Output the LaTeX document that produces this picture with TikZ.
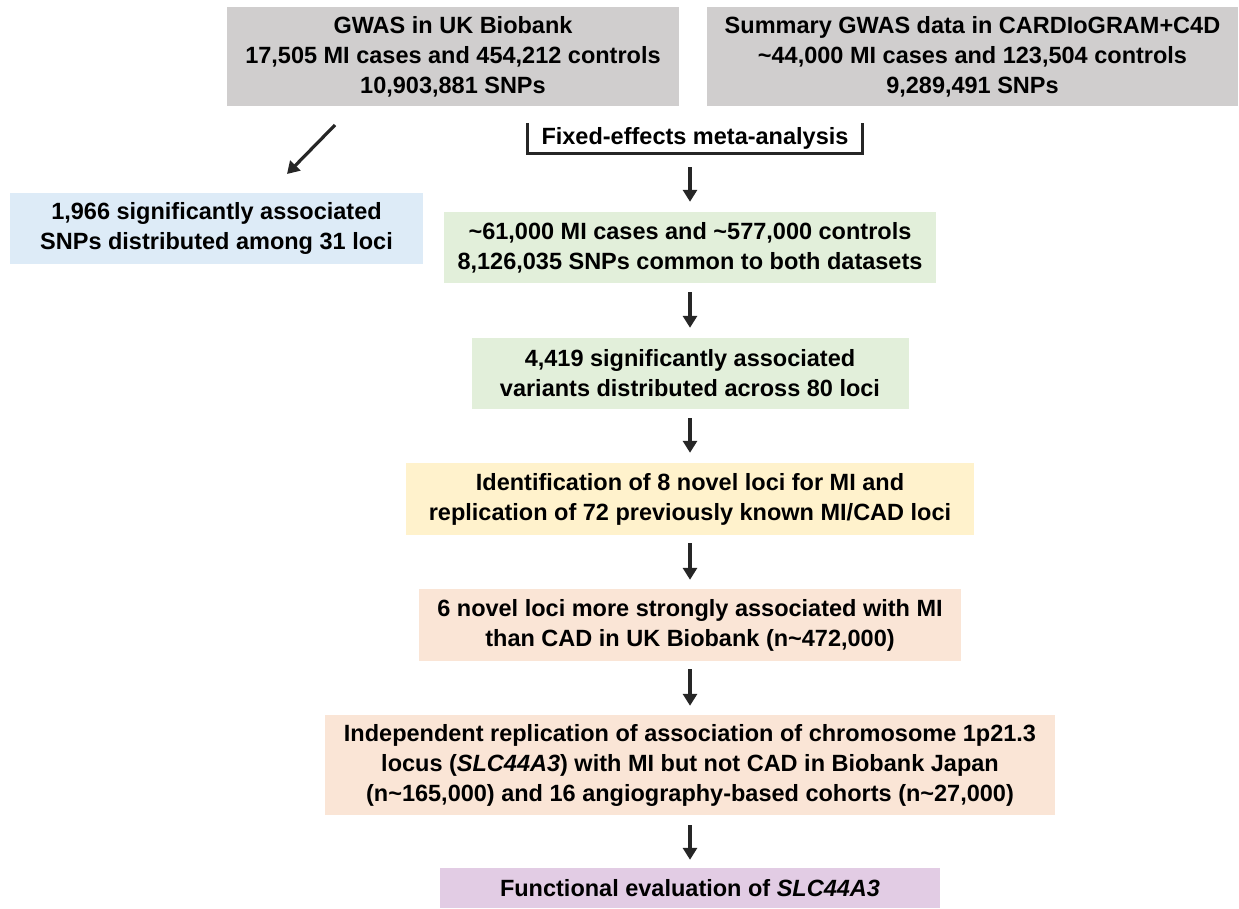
\documentclass[tikz,border=0pt]{standalone}
\usepackage{fontspec}
\setmainfont{Liberation Sans}
\usetikzlibrary{arrows.meta}
\definecolor{cgray}{RGB}{208,206,206}
\definecolor{cblue}{RGB}{221,235,247}
\definecolor{cgreen}{RGB}{226,239,218}
\definecolor{cyellow}{RGB}{255,242,204}
\definecolor{corange}{RGB}{250,229,214}
\definecolor{cpurple}{RGB}{226,204,228}
\definecolor{carrow}{RGB}{38,38,38}
\newcommand\boxfont{\fontsize{23.5}{30}\selectfont\bfseries}
\begin{document}
\begin{tikzpicture}[x=1pt,y=-1pt,
  flowbox/.style={inner sep=0pt, align=center, font=\boxfont, text=black},
  arr/.style={draw=carrow, line width=3.2pt, -{Triangle[width=14pt,length=12pt]}},
  bracketline/.style={draw=carrow, line width=3.2pt}]
\useasboundingbox (0,0) rectangle (1239,909);

\node[flowbox, fill=cgray, minimum width=452pt, minimum height=99pt] (ukb) at (453,56.5)
  {GWAS in UK Biobank\\17,505 MI cases and 454,212 controls\\10,903,881 SNPs};
\node[flowbox, fill=cgray, minimum width=531pt, minimum height=99pt] (card) at (972.5,56.5)
  {Summary GWAS data in CARDIoGRAM+C4D\\\textasciitilde44,000 MI cases and 123,504 controls\\9,289,491 SNPs};

\node[flowbox, minimum width=334pt, minimum height=30pt] (meta) at (695,138)
  {Fixed-effects meta-analysis};
\draw[bracketline] (meta.north west) -- (meta.south west) -- (meta.south east) -- (meta.north east);

\node[flowbox, fill=cblue, minimum width=413pt, minimum height=71pt] (blue) at (216.5,228.5)
  {1,966 significantly associated\\SNPs distributed among 31 loci};

\node[flowbox, fill=cgreen, minimum width=492pt, minimum height=71pt] (g1) at (690,247.5)
  {\textasciitilde61,000 MI cases and \textasciitilde577,000 controls\\8,126,035 SNPs common to both datasets};
\node[flowbox, fill=cgreen, minimum width=437pt, minimum height=71pt] (g2) at (690,373.5)
  {4,419 significantly associated\\variants distributed across 80 loci};
\node[flowbox, fill=cyellow, minimum width=568pt, minimum height=72pt] (y1) at (690,499)
  {Identification of 8 novel loci for MI and\\replication of 72 previously known MI/CAD loci};
\node[flowbox, fill=corange, minimum width=542pt, minimum height=72pt] (o1) at (690,625)
  {6 novel loci more strongly associated with MI\\than CAD in UK Biobank (n\textasciitilde472,000)};
\node[flowbox, fill=corange, minimum width=730pt, minimum height=100pt] (o2) at (690,765)
  {Independent replication of association of chromosome 1p21.3\\locus (\textit{SLC44A3}) with MI but not CAD in Biobank Japan\\(n\textasciitilde165,000) and 16 angiography-based cohorts (n\textasciitilde27,000)};
\node[flowbox, fill=cpurple, minimum width=500pt, minimum height=40pt] (p1) at (690,888)
  {Functional evaluation of \textit{SLC44A3}};

\coordinate (d1) at (335,125);
\coordinate (d2) at (287,174);
\draw[arr] (d1) -- (d2);

\draw[arr, shorten <=14pt, shorten >=10pt] (meta.south -| g1.north) -- (g1.north);
\draw[arr, shorten <=9pt, shorten >=10pt] (g1.south) -- (g2.north);
\draw[arr, shorten <=9pt, shorten >=10pt] (g2.south) -- (y1.north);
\draw[arr, shorten <=8pt, shorten >=9pt] (y1.south) -- (o1.north);
\draw[arr, shorten <=8pt, shorten >=9pt] (o1.south) -- (o2.north);
\draw[arr, shorten <=10pt, shorten >=8pt] (o2.south) -- (p1.north);
\end{tikzpicture}
\end{document}
